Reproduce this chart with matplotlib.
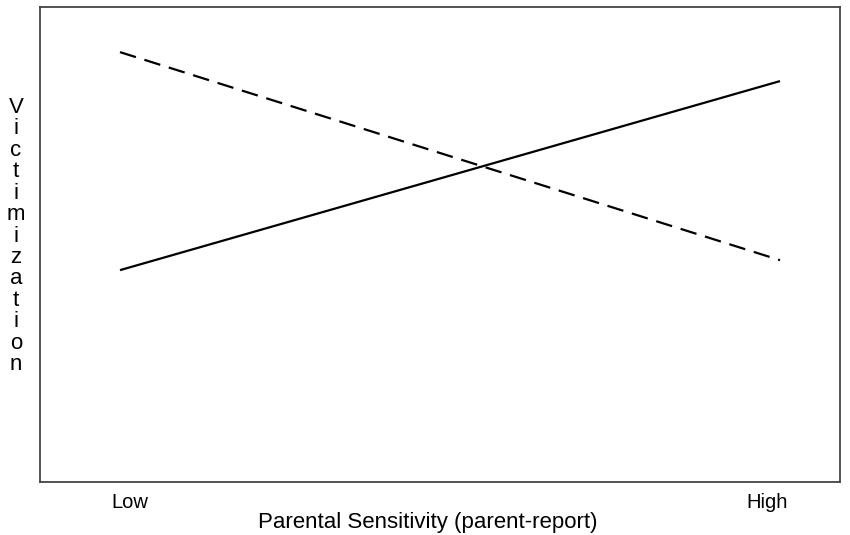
import matplotlib
matplotlib.use("Agg")
import matplotlib.pyplot as plt
from matplotlib.transforms import blended_transform_factory

categories = ["Low", "High"]
x_pos = [0, 1]
solid_values = [0.446, 0.844]
dashed_values = [0.905, 0.467]
y_label_text = "Victimization"
x_label_text = "Parental Sensitivity (parent-report)"

plt.rcParams['font.family'] = ['Liberation Sans', 'DejaVu Sans']

W, H = 850, 535
fig = plt.figure(figsize=(W / 100, H / 100), dpi=100)
ax = fig.add_axes([40 / W, 53 / H, 800 / W, 475 / H])

ax.plot(x_pos, solid_values, color='black', linewidth=1.6, solid_capstyle='butt')
ax.plot(x_pos, dashed_values, color='black', linewidth=1.6, dashes=(7.5, 4))

ax.set_xlim(-80 / 660, 1 + 60 / 660)
ax.set_ylim(0, 1)
ax.set_xticks([])
ax.set_yticks([])

for s in ax.spines.values():
    s.set_color('#444444')
    s.set_linewidth(1.3)

# category labels under the axis
trans = blended_transform_factory(ax.transData, fig.transFigure)
label_offsets = [0.015, -0.02]
for xp, off, lab in zip(x_pos, label_offsets, categories):
    ax.text(xp + off, (H - 508) / H, lab, transform=trans, fontsize=14.5,
            ha='center', va='baseline')

fig.text(428 / W, (H - 528) / H, x_label_text, fontsize=16,
         ha='center', va='baseline')

fig.text(16 / W, 1 - 236 / H, "\n".join(y_label_text), fontsize=16,
         ha='center', va='center', linespacing=1.03)

fig.savefig("out.png", dpi=100)
